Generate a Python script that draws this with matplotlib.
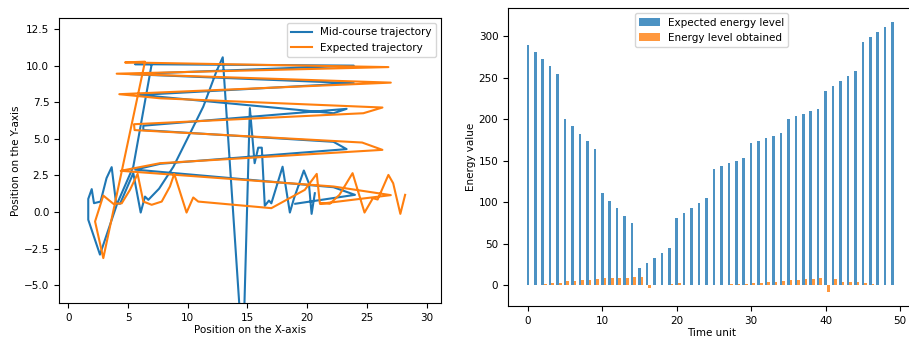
import numpy as np
import matplotlib
matplotlib.use('Agg')
import matplotlib.pyplot as plt

# trajectory data
mid_x = [20.64, 20.37, 20.14, 19.72, 18.9, 18.55, 17.94, 17.0, 16.8, 16.45, 16.2, 15.9, 15.6, 15.2,
         14.62, 12.93, 12.4, 11.3, 10.06, 8.8, 7.6, 6.7, 6.42, 6.06, 5.44, 4.33, 4.0, 3.63, 3.2,
         2.7, 2.15, 1.96, 1.67, 1.67, 2.65, 4.1, 5.44, 6.98, 5.58, 23.9, 5.16, 23.9, 6.0, 22.2,
         23.3, 6.28, 6.28, 22.2, 23.3, 7.7, 5.6, 22.2, 24.0, 19.0]
mid_y = [1.29, -0.12, 1.97, 2.84, 0.95, -0.03, 3.1, 0.6, 0.79, 0.43, 4.4, 4.4, 3.34, 7.1,
         -10.0, 10.57, 9.6, 7.2, 5.16, 3.1, 1.6, 0.84, 1.06, -0.03, 2.66, 0.57, 0.61, 3.07, 2.32,
         0.72, 0.61, 1.57, 0.9, -0.52, -2.9, 0.6, 3.1, 10.1, 10.1, 10.0, 9.42, 8.8, 8.0, 6.75,
         7.05, 5.9, 5.6, 4.8, 4.3, 3.3, 2.9, 1.7, 1.18, 0.57]

exp_x = [28.2, 27.8, 27.2, 26.8, 25.9, 25.5, 24.8, 23.8, 22.7, 21.9, 21.06, 20.8, 19.8, 17.0,
         10.88, 10.46, 9.9, 8.87, 8.51, 7.82, 6.98, 6.28, 5.8, 5.16, 4.47, 3.77, 2.93, 2.24,
         2.93, 6.42, 4.75, 26.8, 4.05, 27.0, 4.27, 7.68, 26.3, 24.7, 5.5, 5.55, 24.6, 26.3,
         7.68, 4.39, 22.2, 27.0, 21.1]
exp_y = [1.18, -0.12, 1.97, 2.54, 0.86, 0.95, -0.03, 2.66, 1.18, 0.57, 0.61, 2.61, 1.52, 0.27,
         0.72, 1.0, -0.03, 2.61, 1.75, 0.72, 0.5, 0.72, 2.61, 1.52, 0.6, 0.57, 1.13, -0.64,
         -3.14, 10.27, 10.22, 9.9, 9.45, 8.84, 8.05, 7.77, 7.14, 6.75, 6.0, 5.6, 4.75, 4.25,
         3.34, 2.82, 1.75, 1.16, 0.57]

# energy data
time_unit = np.arange(50)
expected_energy = [290, 281.5, 272.5, 263.5, 254.5, 200.5, 191.5, 182.5, 173.5, 164.5,
                   110.5, 101.5, 92.5, 83.5, 74.5, 21, 27, 33, 39, 45,
                   80.5, 86.5, 92.5, 98.5, 104.5, 140, 143.5, 147, 150, 153,
                   171, 174, 177, 180, 183, 200.5, 203.5, 206.5, 209.5, 212.5,
                   233.5, 239.5, 245.5, 251.5, 257.5, 293.5, 299.5, 305.5, 311.5, 317.5]
obtained_energy = [0.5, 0.3, 1, 2, 2.5, 5, 5, 6, 6.5, 7,
                   8, 8.5, 8.5, 9, 9.5, 10, -3.5, 0.5, 0, 1,
                   2, 0.3, 0.3, 0.3, 0.5, 0.5, 0.5, 1, 1, 1,
                   3, 3, 3.5, 4, 4.5, 6, 6.5, 7, 7.5, 8,
                   -9, 7, 3.5, 4, 4, 2, 1, 0.5, 0.5, 0.5]

fig = plt.figure(figsize=(9.09, 3.4), dpi=100)

# left: trajectories
ax1 = fig.add_axes((0.0649, 0.109, 0.4202, 0.838))
ax1.plot(mid_x, mid_y, color='#1f77b4', lw=1.5, label='Mid-course trajectory')
ax1.plot(exp_x, exp_y, color='#ff7f0e', lw=1.5, label='Expected trajectory')
ax1.set_xlim(-0.78, 31.2)
ax1.set_ylim(-6.2, 13.25)
ax1.set_xticks([0, 5, 10, 15, 20, 25, 30])
ax1.set_yticks([-5.0, -2.5, 0.0, 2.5, 5.0, 7.5, 10.0, 12.5])
ax1.tick_params(labelsize=7.5)
ax1.set_xlabel('Position on the X-axis', fontsize=7.5, labelpad=2)
ax1.set_ylabel('Position on the Y-axis', fontsize=7.5, labelpad=2)
ax1.legend(loc='upper right', fontsize=7.5)

# right: energy bars
width = 0.35
ax2 = fig.add_axes((0.5589, 0.1, 0.4477, 0.876))
ax2.bar(time_unit, expected_energy, width, alpha=0.8, label='Expected energy level')
ax2.bar(time_unit + width, obtained_energy, width, alpha=0.8, label='Energy level obtained')
ax2.set_yticks([0, 50, 100, 150, 200, 250, 300])
ax2.tick_params(labelsize=7.5)
ax2.set_xlabel('Time unit', fontsize=7.5, labelpad=2)
ax2.set_ylabel('Energy value', fontsize=7.5, labelpad=2)
ax2.legend(loc='upper center', fontsize=7.5)

plt.savefig('out.png', dpi=100)
